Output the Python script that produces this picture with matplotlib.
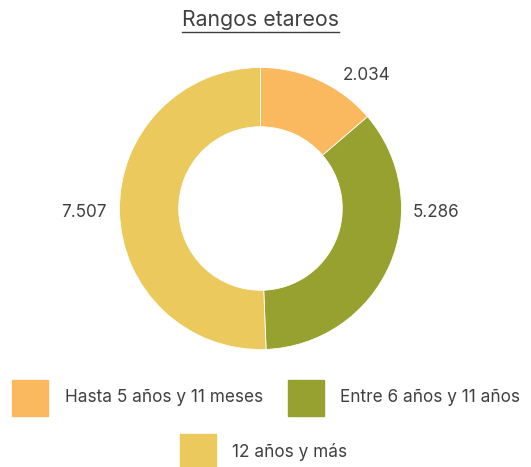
import matplotlib
matplotlib.use('Agg')
import matplotlib.pyplot as plt
from matplotlib.patches import Rectangle
from matplotlib.lines import Line2D

plt.rcParams['font.family'] = ['Inter', 'DejaVu Sans']

categorias = ['Hasta 5 años y 11 meses', 'Entre 6 años y 11 años', '12 años y más']
valores = [2034, 5286, 7507]
etiquetas = ['2.034', '5.286', '7.507']
colores = ['#FAB85F', '#97A12F', '#ECC95C']
gris = '#404040'

W, H = 531, 467
fig = plt.figure(figsize=(W/100, H/100), dpi=100)

# eje del donut: centro (260.5,208.5) px, radio 141 px
R = 141
cx, cy = 260.5, 208.5
lado = 2.5*R
ax = fig.add_axes([(cx - lado/2)/W, (H - cy - lado/2)/H, lado/W, lado/H])
ax.pie(valores, colors=colores, startangle=90, counterclock=False,
       wedgeprops=dict(width=0.42, edgecolor='white', linewidth=0.6))
ax.set_xlim(-1.25, 1.25)
ax.set_ylim(-1.25, 1.25)
ax.set_aspect('equal')

# posiciones de las etiquetas (en radios)
pos_etq = [(0.75, 0.94), (1.245, -0.025), (-1.25, -0.025)]
for (x, y), t in zip(pos_etq, etiquetas):
    ax.text(x, y, t, ha='center', va='center', fontsize=12.3, color=gris)

# titulo subrayado
tit = fig.text(260/W, 1 - 20/H, 'Rangos etareos', ha='center', va='center',
               fontsize=15.3, color=gris)
fig.canvas.draw()
bb = tit.get_window_extent()
fig.add_artist(Line2D([bb.x0/W, bb.x1/W], [(H - 32)/H]*2, color=gris, lw=1))

# leyenda manual
pos = [(12, 380, 65), (288, 380, 340), (180, 434, 232)]
for (x, y, tx), cat, c in zip(pos, categorias, colores):
    fig.add_artist(Rectangle((x/W, (H - y - 36)/H), 36/W, 36/H, color=c,
                             transform=fig.transFigure))
    fig.text(tx/W, 1 - (y + 18)/H, cat, ha='left', va='center',
             fontsize=12.4, color=gris)

fig.savefig('out.png', dpi=100)
